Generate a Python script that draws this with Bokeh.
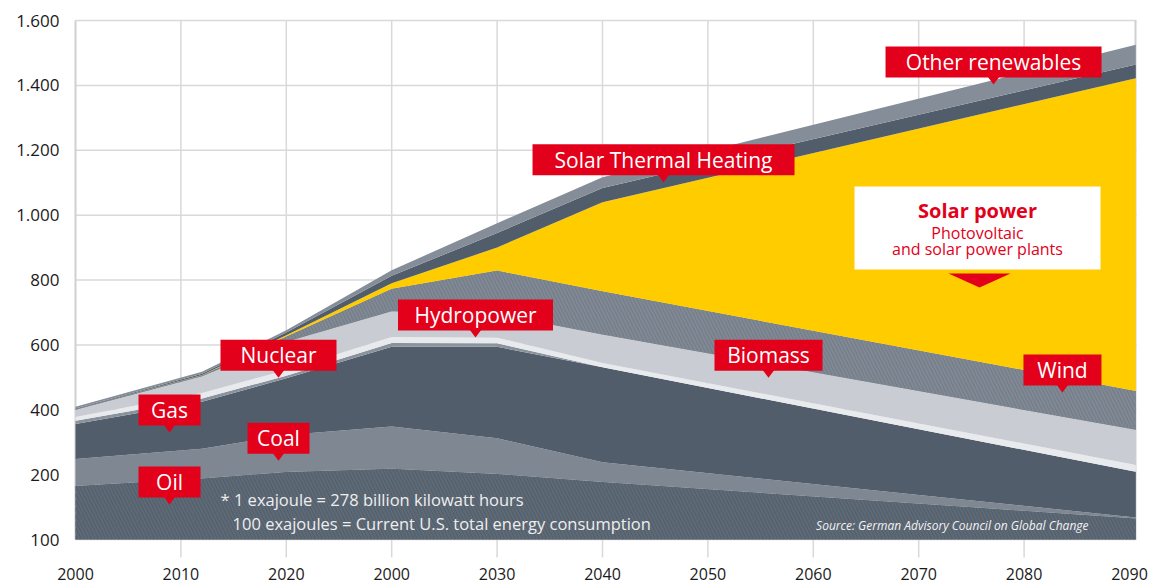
from bokeh.plotting import figure
from bokeh.models import Range1d
from bokeh.core.properties import value
from bokeh.embed import file_html
from bokeh.resources import INLINE
import numpy as np

# ---------------- data ----------------
x_pos = [0, 1.2, 2, 3, 4, 5, 10.06]
tick_years = ["2000", "2010", "2020", "2000", "2030", "2040", "2050", "2060", "2070", "2080", "2090"]
y_ticks = [0, 200, 400, 600, 800, 1000, 1200, 1400, 1600]
y_tick_labels = ["100", "200", "400", "600", "800", "1.000", "1.200", "1.400", "1.600"]

oil     = [165, 188, 208, 218, 202, 177, 65]
coal    = [83, 92, 114, 130, 110, 61, 3]
gas     = [108, 145, 175, 246, 282, 293, 141]
nuclear = [10, 10, 8, 12, 11, 0, 0]
hydro   = [12, 17, 17, 18, 17, 13, 21]
biomass = [22, 51, 88, 80, 73, 88, 108]
wind    = [2, 3, 16, 69, 134, 133, 120]
solar   = [0, 1, 4, 17, 71, 275, 964]
thermal = [2, 4, 8, 23, 45, 44, 42]
other   = [5, 6, 7, 17, 30, 33, 61]

layers = [oil, coal, gas, nuclear, hydro, biomass, wind, solar, thermal, other]
colors = ["#4e5967", "#7e8792", "#525d6b", "#8a929c", "#e8eaed",
          "#c9cdd3", "#6d7783", "#ffcc00", "#525d6b", "#858e98"]
hatched = {0: "#5e6976", 6: "#7f8893"}

# label anchors (pointer tip, data coords) and box widths
label_text = ["Oil", "Gas", "Coal", "Nuclear", "Hydropower", "Solar Thermal Heating",
              "Biomass", "Wind", "Other renewables"]
label_x = [0.892, 0.892, 1.926, 1.926, 3.795, 5.579, 6.575, 9.364, 8.710]
label_y = [108, 330, 243, 499, 623, 1101, 499, 453, 1403]
label_w = [62, 62, 62, 116, 155, 262, 108, 78, 216]

RED = "#e2001a"
FONT = "Open Sans"
GRID = "#d9d9d9"

# ---------------- geometry ----------------
W, H = 1156, 583
LEFT_PX, ZERO_PX = 75, 539
SX = 105.4
SY = 519 / 1600
X_END = 1061 / SX

def dx(px):
    return px / SX

def dy(px):
    return px / SY

p = figure(width=W, height=H, output_backend="svg", toolbar_location=None,
           x_range=Range1d(-dx(LEFT_PX), dx(W - LEFT_PX)),
           y_range=Range1d(-dy(H - ZERO_PX), dy(ZERO_PX)),
           x_axis_location=None, y_axis_location=None, min_border=0)
p.outline_line_color = None
p.background_fill_color = "white"
p.border_fill_color = "white"
p.xgrid.visible = False
p.ygrid.visible = False

# horizontal grid lines
p.segment(x0=[0] * len(y_ticks), y0=y_ticks, x1=[X_END] * len(y_ticks), y1=y_ticks,
          line_color=GRID, line_width=1.5)
# vertical grid lines + ticks extending below the plot
vx = list(range(1, 10))
p.segment(x0=vx, y0=[-dy(18)] * len(vx), x1=vx, y1=[1600] * len(vx),
          line_color=GRID, line_width=1.5)
p.segment(x0=[0, X_END - dx(1)], y0=[0, 0], x1=[0, X_END - dx(1)], y1=[1600, 1600],
          line_color="#d0d0d0", line_width=2)

# stacked areas
bottom = np.zeros(len(x_pos))
for i, (vals, col) in enumerate(zip(layers, colors)):
    top = bottom + np.array(vals, dtype=float)
    kw = {}
    if i in hatched:
        kw = dict(hatch_pattern="\\", hatch_color=hatched[i], hatch_scale=7,
                  hatch_weight=2.5, hatch_alpha=1.0)
    p.varea(x=x_pos, y1=bottom, y2=top, fill_color=col, **kw)
    bottom = top

# y tick labels
p.text(x=[-dx(16)] * len(y_ticks), y=y_ticks, text=y_tick_labels, text_align="right",
       text_baseline="middle", text_font=value(FONT), text_font_size="17px",
       text_color="#1a1a1a")
# x tick labels
p.text(x=list(range(len(tick_years))), y=[-dy(34)] * len(tick_years), text=tick_years,
       text_align="center", text_baseline="middle", text_font=value(FONT),
       text_font_size="16px", text_color="#1a1a1a")

# red callout labels
BH = 31
for t, x, y, w in zip(label_text, label_x, label_y, label_w):
    cy = y + dy(7 + BH / 2)
    p.patches(xs=[[x - dx(6), x + dx(6), x]], ys=[[y + dy(8), y + dy(8), y]],
              fill_color=RED, line_color=None)
    p.rect(x=[x], y=[cy], width=w, height=BH, width_units="screen",
           height_units="screen", fill_color=RED, line_color=None)
    p.text(x=[x], y=[cy], text=[t], text_align="center", text_baseline="middle",
           text_font=value(FONT), text_font_size="21px", text_color="white")

# Solar power box
sp_x, sp_y = 8.558, 960
p.rect(x=[sp_x], y=[sp_y], width=246, height=83, width_units="screen",
       height_units="screen", fill_color="white", line_color=None)
tip_x, tip_y = 8.577, 777
p.patches(xs=[[tip_x - dx(31), tip_x + dx(31), tip_x]],
          ys=[[tip_y + dy(14), tip_y + dy(14), tip_y]],
          fill_color=RED, line_color=None)
p.text(x=[sp_x], y=[sp_y + dy(17.5)], text=["Solar power"], text_align="center",
       text_baseline="middle", text_font=value(FONT), text_font_style="bold",
       text_font_size="20px", text_color=RED)
p.text(x=[sp_x, sp_x], y=[sp_y - dy(4.5), sp_y - dy(20.5)],
       text=["Photovoltaic", "and solar power plants"], text_align="center",
       text_baseline="middle", text_font=value(FONT), text_font_size="16px",
       text_color=RED)

# footnote
p.text(x=[1.376], y=[123], text=["* 1 exajoule = 278 billion kilowatt hours"],
       text_align="left", text_baseline="middle", text_font=value(FONT),
       text_font_size="16.5px", text_color="#eeeeee")
p.text(x=[1.49], y=[49], text=["100 exajoules = Current U.S. total energy consumption"],
       text_align="left", text_baseline="middle", text_font=value(FONT),
       text_font_size="16.5px", text_color="#eeeeee")
p.text(x=[9.611], y=[43], text=["Source: German Advisory Council on Global Change"],
       text_align="right", text_baseline="middle", text_font=value(FONT),
       text_font_style="italic", text_font_size="12px", text_color="#f2f2f2")

open("out.html", "w").write(file_html(p, INLINE))
